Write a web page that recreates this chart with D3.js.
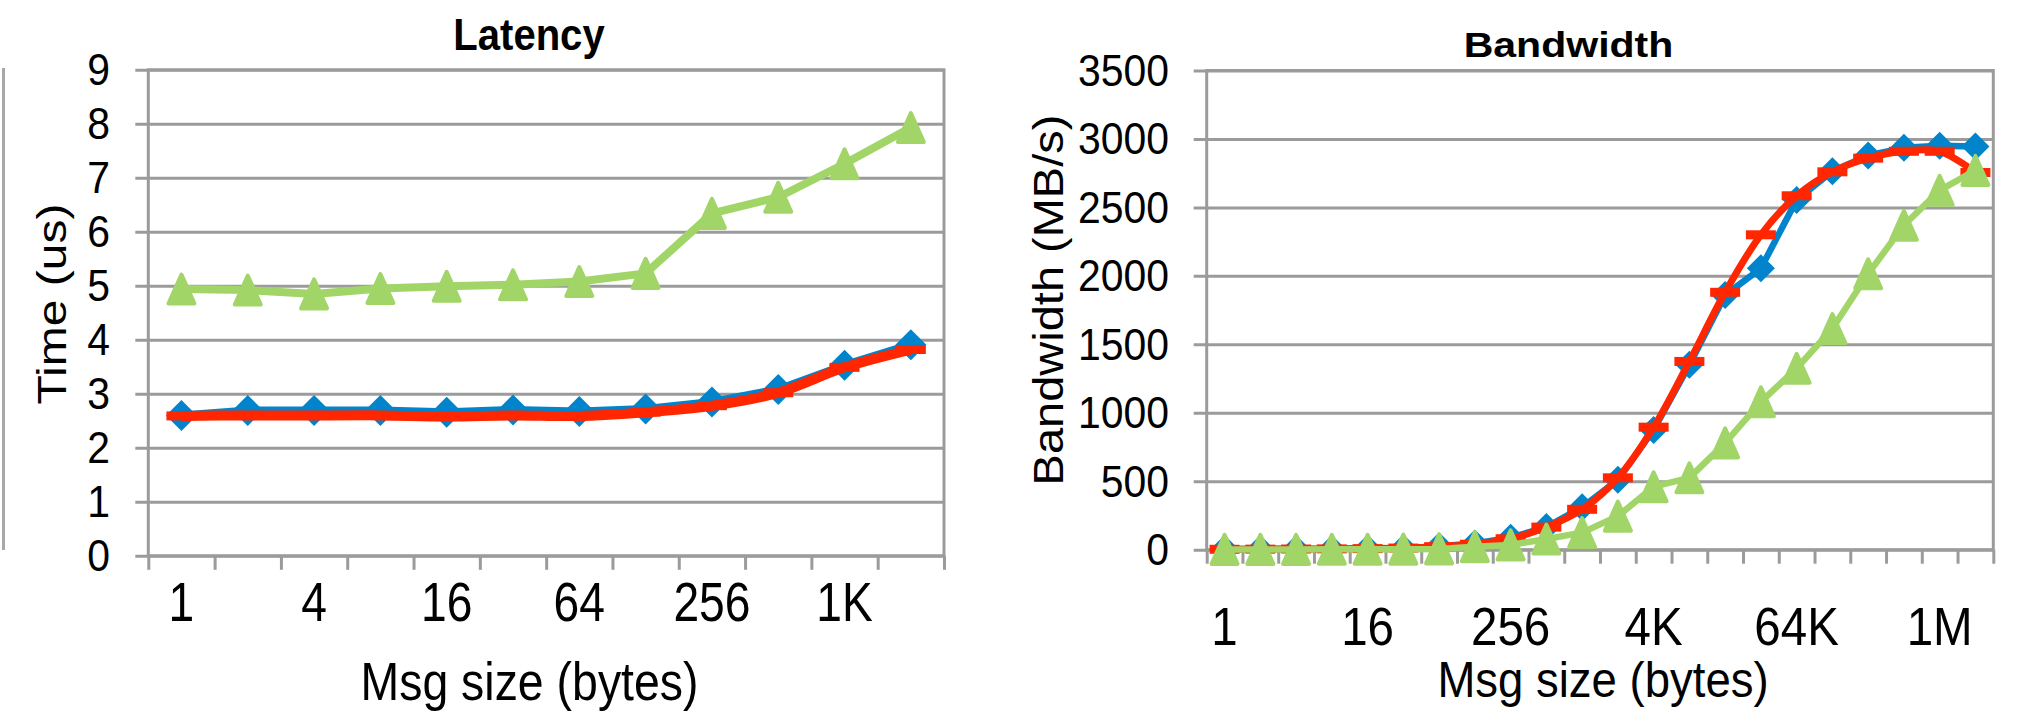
<!DOCTYPE html>
<html>
<head>
<meta charset="utf-8">
<script src="https://cdn.jsdelivr.net/npm/d3@7"></script>
<style>
  html, body { margin: 0; padding: 0; background: #fff; }
  svg { display: block; }
</style>
</head>
<body>
<svg id="chart" width="2021" height="717"></svg>
<script>
// ---- Latency panel data (message sizes 1 B .. 2 KB) ----
const latencySizes = ["1", "2", "4", "8", "16", "32", "64", "128", "256", "512", "1K", "2K"];
const latencyTickLabels = ["1", "4", "16", "64", "256", "1K"];
const latencyDiamond  = [2.60, 2.69, 2.69, 2.69, 2.66, 2.70, 2.67, 2.72, 2.85, 3.08, 3.53, 3.91];
const latencyDash     = [2.59, 2.60, 2.60, 2.60, 2.58, 2.60, 2.59, 2.66, 2.78, 3.02, 3.49, 3.82];
const latencyTriangle = [4.94, 4.92, 4.85, 4.95, 4.99, 5.02, 5.08, 5.23, 6.34, 6.64, 7.26, 7.93];
const latencyYTicks = [0, 1, 2, 3, 4, 5, 6, 7, 8, 9];

// ---- Bandwidth panel data (message sizes 1 B .. 2 MB) ----
const bandwidthSizes = ["1", "2", "4", "8", "16", "32", "64", "128", "256", "512", "1K", "2K",
                        "4K", "8K", "16K", "32K", "64K", "128K", "256K", "512K", "1M", "2M"];
const bandwidthTickLabels = ["1", "16", "256", "4K", "64K", "1M"];
const bandwidthDiamond  = [5, 5, 6, 6, 8, 10, 25, 45, 88, 165, 310, 510, 875, 1350, 1860, 2055, 2555, 2765, 2880, 2935, 2950, 2945];
const bandwidthDash     = [3, 4, 5, 6, 8, 12, 22, 40, 80, 165, 295, 525, 895, 1375, 1880, 2300, 2585, 2760, 2860, 2910, 2910, 2755];
const bandwidthTriangle = [2, 2, 2, 3, 3, 4, 6, 22, 35, 78, 125, 245, 460, 525, 780, 1080, 1325, 1615, 2015, 2370, 2625, 2770];
const bandwidthYTicks = [0, 500, 1000, 1500, 2000, 2500, 3000, 3500];

const FONT = "'Liberation Sans', Arial, Helvetica, sans-serif";
const GRID = "#9b9b9b";
const BLUE = "#0284cc", RED = "#ff2600", GREEN = "#a2d567";

const svg = d3.select("#chart");
svg.append("rect").attr("width", 2021).attr("height", 717).attr("fill", "#fff");

// thin frame edge on the far left
svg.append("line").attr("x1", 3.5).attr("x2", 3.5).attr("y1", 68).attr("y2", 550)
  .attr("stroke", "#a8a8a8").attr("stroke-width", 3);

function scaledText(parent, x, y, str, opt) {
  const g = parent.append("g")
    .attr("transform", `translate(${x},${y}) rotate(${opt.rotate || 0}) scale(${opt.sx || 1},${opt.sy || 1})`);
  g.append("text")
    .attr("x", 0).attr("y", opt.dy || 0)
    .attr("text-anchor", opt.anchor || "middle")
    .attr("font-family", FONT)
    .attr("font-size", opt.size)
    .attr("font-weight", opt.weight || "normal")
    .attr("fill", "#000")
    .text(str);
  return g;
}

function panel(cfg) {
  const g = svg.append("g");
  const x = d3.scaleBand().domain(cfg.cats).range([cfg.left, cfg.right]).padding(0);
  const xEdge = d3.scaleLinear().domain([0, cfg.cats.length]).range([cfg.left, cfg.right]);
  const y = d3.scaleLinear().domain(cfg.yDomain).range([cfg.bottom, cfg.top]);
  const cx = d => x(d) + x.bandwidth() / 2;

  // horizontal gridlines with outward ticks
  const gy = g.append("g").attr("transform", `translate(${cfg.left},0)`)
    .call(d3.axisLeft(y).tickValues(cfg.yTicks).tickSize(-(cfg.right - cfg.left)).tickSizeOuter(0).tickFormat(""));
  gy.select(".domain").remove();
  gy.selectAll(".tick line").attr("stroke", GRID).attr("stroke-width", 3)
    .attr("x1", -13).attr("x2", cfg.right - cfg.left);

  // category boundary ticks along the bottom
  const gx = g.append("g").attr("transform", `translate(0,${cfg.bottom})`)
    .call(d3.axisBottom(xEdge).tickValues(d3.range(cfg.cats.length + 1)).tickSize(14).tickSizeOuter(0).tickFormat(""));
  gx.select(".domain").remove();
  gx.selectAll(".tick line").attr("stroke", GRID).attr("stroke-width", 3);

  // plot frame
  g.append("rect").attr("x", cfg.left).attr("y", cfg.top)
    .attr("width", cfg.right - cfg.left).attr("height", cfg.bottom - cfg.top)
    .attr("fill", "none").attr("stroke", GRID).attr("stroke-width", 3);

  // y tick labels
  cfg.yTicks.forEach(v => {
    scaledText(g, cfg.yLabelX, y(v) + 15.5, String(v), { size: 44, sx: 0.93, anchor: "end" });
  });

  // x tick labels
  cfg.xLabels.forEach(lbl => {
    scaledText(g, cx(lbl), cfg.xLabelBase, lbl, { size: cfg.xLabelSize, sx: cfg.xLabelSx });
  });

  // series: line then markers, drawn in order
  cfg.series.forEach(s => {
    const pts = s.values.map((v, i) => [cx(cfg.cats[i]), y(v)]);
    const line = d3.line().curve(s.smooth ? d3.curveCatmullRom.alpha(0.5) : d3.curveLinear);
    g.append("path").attr("d", line(pts)).attr("fill", "none")
      .attr("stroke", s.color).attr("stroke-width", s.width)
      .attr("stroke-linejoin", "round").attr("stroke-linecap", "butt");
    const m = g.append("g");
    pts.forEach(([px, py]) => {
      if (s.marker === "diamond") {
        const r = s.msize;
        m.append("path").attr("d", `M${px},${py - r}L${px + r},${py}L${px},${py + r}L${px - r},${py}Z`)
          .attr("fill", s.color);
      } else if (s.marker === "triangle") {
        const w = s.msize, h = s.msize * 1.1;
        m.append("path").attr("d", `M${px},${py - h + 2}L${px + w - 2},${py + h - 2}L${px - w + 2},${py + h - 2}Z`)
          .attr("fill", s.color).attr("stroke", s.color).attr("stroke-width", 4).attr("stroke-linejoin", "round");
      } else if (s.marker === "dash") {
        m.append("rect").attr("x", px - 15).attr("y", py - 4.5).attr("width", 30).attr("height", 9)
          .attr("fill", s.color);
      }
    });
  });

  // titles
  scaledText(g, cfg.titleX, cfg.titleBase, cfg.title,
    { size: cfg.titleSize, weight: "bold", sx: cfg.titleSx });
  scaledText(g, cfg.xTitleX, cfg.xTitleBase, "Msg size (bytes)",
    { size: cfg.xTitleSize, sx: cfg.xTitleSx });
  scaledText(g, cfg.yTitleX, cfg.yTitleY, cfg.yTitle,
    { size: cfg.yTitleSize, rotate: -90, sy: cfg.yTitleSy, dy: 0.26 * cfg.yTitleSize });
}

panel({
  cats: latencySizes, xLabels: latencyTickLabels, yTicks: latencyYTicks, yDomain: [0, 9],
  left: 148.3, right: 944, top: 69.8, bottom: 555.8,
  yLabelX: 110, xLabelBase: 621, xLabelSize: 55, xLabelSx: 0.84,
  title: "Latency", titleX: 529, titleBase: 50, titleSize: 45, titleSx: 0.89,
  xTitleX: 529.5, xTitleBase: 700, xTitleSize: 54, xTitleSx: 0.86,
  yTitle: "Time (us)", yTitleX: 55.5, yTitleY: 304, yTitleSize: 48, yTitleSy: 0.86,
  series: [
    { values: latencyDiamond, color: BLUE, width: 8, marker: "diamond", msize: 15.5 },
    { values: latencyDash, color: RED, width: 10, marker: "dash", smooth: true },
    { values: latencyTriangle, color: GREEN, width: 8, marker: "triangle", msize: 15 }
  ]
});

panel({
  cats: bandwidthSizes, xLabels: bandwidthTickLabels, yTicks: bandwidthYTicks, yDomain: [0, 3500],
  left: 1206.7, right: 1993.3, top: 70.5, bottom: 549.7,
  yLabelX: 1169, xLabelBase: 645, xLabelSize: 54, xLabelSx: 0.88,
  title: "Bandwidth", titleX: 1568.5, titleBase: 57, titleSize: 36, titleSx: 1.14,
  xTitleX: 1603, xTitleBase: 697, xTitleSize: 50, xTitleSx: 0.91,
  yTitle: "Bandwidth (MB/s)", yTitleX: 1052, yTitleY: 300, yTitleSize: 47, yTitleSy: 0.9,
  series: [
    { values: bandwidthDiamond, color: BLUE, width: 6.5, marker: "diamond", msize: 14 },
    { values: bandwidthDash, color: RED, width: 7, marker: "dash", smooth: true },
    { values: bandwidthTriangle, color: GREEN, width: 6.5, marker: "triangle", msize: 15 }
  ]
});
</script>
</body>
</html>
